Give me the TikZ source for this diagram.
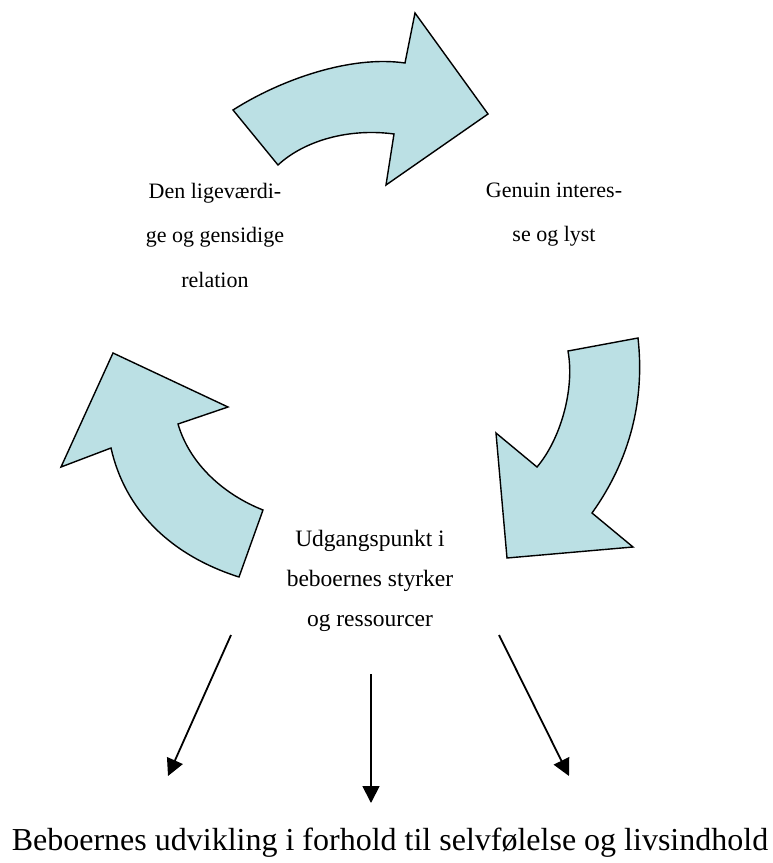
\documentclass[tikz,border=0pt]{standalone}
\usepackage{fontspec}
\setmainfont{Liberation Serif}
\usetikzlibrary{arrows.meta}
\definecolor{pilfarve}{RGB}{187,224,228}

\begin{document}
\begin{tikzpicture}[x=1pt,y=-1pt,
  pil/.style={fill=pilfarve,draw=black,line width=1.4pt},
  pilstreg/.style={-{Triangle[length=17pt,width=17pt]},line width=1.8pt},
  tekst/.style={align=center,inner sep=0pt,font=\fontsize{22}{44.5}\selectfont},
  midttekst/.style={align=center,inner sep=0pt,font=\fontsize{23.5}{40}\selectfont}]
\useasboundingbox (0,0) rectangle (772,863);

% de tre buede pile
\draw[pil] (233,110) .. controls (280,80) and (350,55) .. (405,63) -- (415,13)
  -- (488,114) -- (386,185) -- (394,134) .. controls (350,128) and (305,140) .. (278,165) -- cycle;
\draw[pil] (568,351) -- (638,338) .. controls (645,400) and (630,460) .. (592,513)
  -- (633,547) -- (507,558) -- (496,433) -- (537,467) .. controls (560,440) and (575,390) .. (568,351) -- cycle;
\draw[pil] (239,577) -- (263,510) .. controls (225,495) and (190,465) .. (178,424)
  -- (228,407) -- (113,353) -- (61,467) -- (111,448) .. controls (125,510) and (170,555) .. (239,577) -- cycle;

\node[tekst] (relation)  at (215,235)   {Den ligeværdi-\\ge og gensidige\\relation};
\node[tekst] (interesse) at (554,214.5) {Genuin interes-\\se og lyst};
\node[midttekst] (udgang) at (370,580.5) {Udgangspunkt i\\beboernes styrker\\og ressourcer};
\node[anchor=base,inner sep=0pt,font=\fontsize{32}{36}\selectfont] (udvikling) at (390,850)
  {Beboernes udvikling i forhold til selvfølelse og livsindhold};

\coordinate (start1) at (231,635);
\coordinate (slut1)  at (168,776);
\coordinate (start2) at (371,674);
\coordinate (slut2)  at (371,803);
\coordinate (start3) at (499,635);
\coordinate (slut3)  at (569,776);

\draw[pilstreg] (start1) -- (slut1);
\draw[pilstreg] (start2) -- (slut2);
\draw[pilstreg] (start3) -- (slut3);
\end{tikzpicture}
\end{document}
